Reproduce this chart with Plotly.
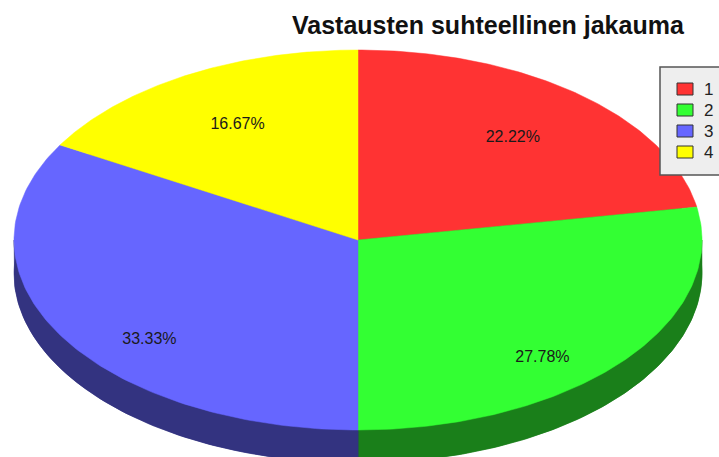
import numpy as np
import plotly.graph_objects as go

# ---- data ----
categories = ["1", "2", "3", "4"]
values = [4, 5, 6, 3]
title_text = "Vastausten suhteellinen jakauma"

# ---- style ----
face_colors = ["#FF3333", "#33FF33", "#6666FF", "#FFFF00"]
side_colors = ["#801A1A", "#1A7F1A", "#333380", "#808000"]

W, H = 719, 457
cx, cy, rx, ry, depth = 358, 240, 344, 190, 33
label_k = 0.7

total = float(sum(values))
fracs = [v / total for v in values]
cum = np.concatenate([[0], np.cumsum(fracs)])


def arc(t0, t1, dy=0.0, n=120):
    t = np.linspace(t0, t1, n)
    return list(cx + rx * np.sin(t)), list(cy - ry * np.cos(t) + dy)


fig = go.Figure()

# sides (extrusion) first
for i in range(len(values)):
    t0, t1 = 2 * np.pi * cum[i], 2 * np.pi * cum[i + 1]
    ax, ay = arc(t0, t1, depth)
    fig.add_trace(go.Scatter(x=[cx] + ax + [cx], y=[cy + depth] + ay + [cy + depth],
                             fill="toself", mode="lines", fillcolor=side_colors[i],
                             line=dict(color=side_colors[i], width=0.5),
                             hoverinfo="skip", showlegend=False))
    a0, a1 = max(t0, np.pi / 2), min(t1, 3 * np.pi / 2)
    if a1 > a0:
        tx, ty = arc(a0, a1)
        bx, by = arc(a0, a1, depth)
        fig.add_trace(go.Scatter(x=tx + bx[::-1] + [tx[0]], y=ty + by[::-1] + [ty[0]],
                                 fill="toself", mode="lines", fillcolor=side_colors[i],
                                 line=dict(color=side_colors[i], width=0.5),
                                 hoverinfo="skip", showlegend=False))

# top faces
for i in range(len(values)):
    t0, t1 = 2 * np.pi * cum[i], 2 * np.pi * cum[i + 1]
    ax, ay = arc(t0, t1)
    fig.add_trace(go.Scatter(x=[cx] + ax + [cx], y=[cy] + ay + [cy],
                             fill="toself", mode="lines", fillcolor=face_colors[i],
                             line=dict(color=face_colors[i], width=0.5),
                             name=categories[i], hoverinfo="skip", showlegend=False))

# percentage labels
lx, ly, lt = [], [], []
for i in range(len(values)):
    mid = 2 * np.pi * (cum[i] + cum[i + 1]) / 2
    c = np.cos(mid)
    lx.append(cx + label_k * rx * np.sin(mid))
    ly.append(cy - label_k * ry * c + (depth if c < 0 else 0))
    lt.append(f"{fracs[i] * 100:.2f}%")
fig.add_trace(go.Scatter(x=lx, y=ly, text=lt, mode="text",
                         textfont=dict(family="Liberation Sans, Arial, sans-serif", size=16, color="#1a1a1a"),
                         hoverinfo="skip", showlegend=False))

# custom legend box
shapes = [dict(type="rect", xref="x", yref="y", x0=660, x1=730, y0=67, y1=175,
               fillcolor="#EEEEEE", line=dict(color="#555555", width=1.5), layer="above")]
annotations = []
for i, cat in enumerate(categories):
    yc = 89 + 21 * i
    shapes.append(dict(type="rect", xref="x", yref="y", x0=677, x1=693, y0=yc - 6, y1=yc + 6,
                       fillcolor=face_colors[i], line=dict(color="#333333", width=1), layer="above"))
    annotations.append(dict(x=702, y=yc, xref="x", yref="y", text=cat, showarrow=False,
                            xanchor="left", yanchor="middle",
                            font=dict(family="Liberation Sans, Arial, sans-serif", size=17, color="#222222")))

annotations.append(dict(x=488, y=25, xref="x", yref="y", text="<b>" + title_text + "</b>",
                        showarrow=False, xanchor="center", yanchor="middle",
                        font=dict(family="Liberation Sans, Arial, sans-serif", size=25, color="#111111")))

fig.update_layout(
    width=W, height=H, margin=dict(l=0, r=0, t=0, b=0),
    paper_bgcolor="white", plot_bgcolor="white",
    xaxis=dict(range=[0, W], visible=False, fixedrange=True),
    yaxis=dict(range=[H, 0], visible=False, fixedrange=True),
    shapes=shapes, annotations=annotations, showlegend=False,
)

fig.write_html("out.html")
